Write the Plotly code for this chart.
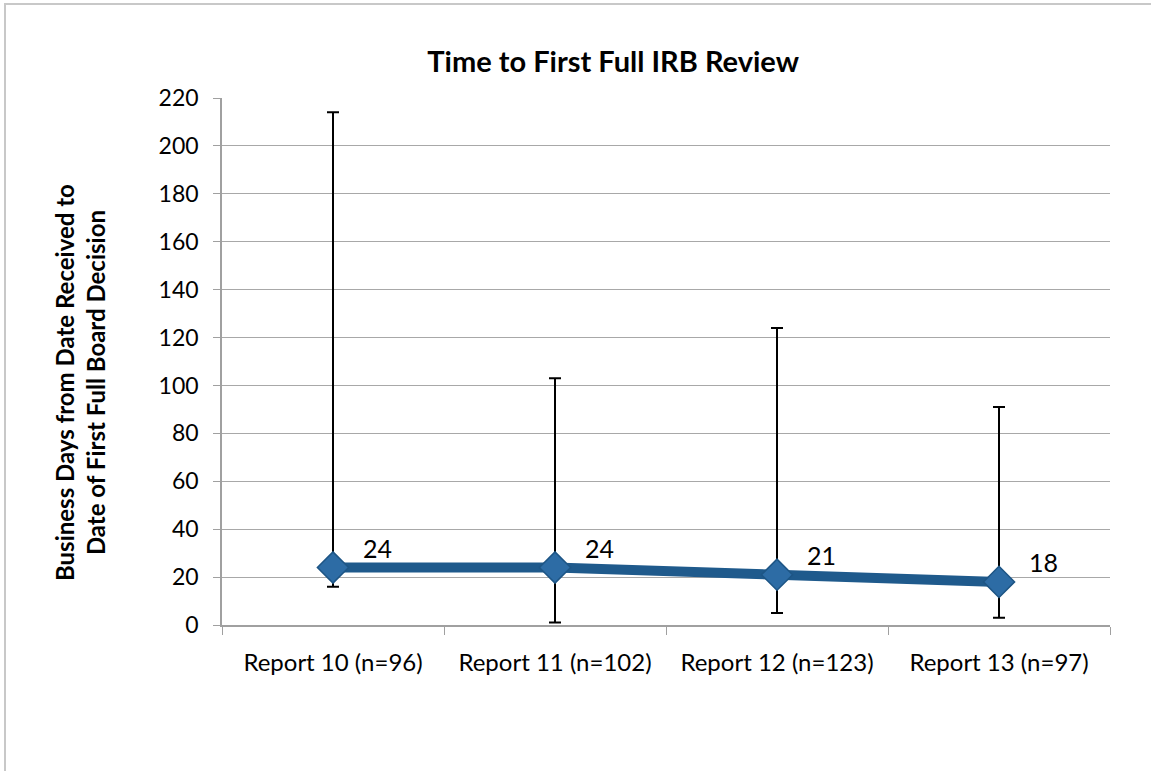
import plotly.graph_objects as go

categories = ["Report 10 (n=96)", "Report 11 (n=102)", "Report 12 (n=123)", "Report 13 (n=97)"]
median_days = [24, 24, 21, 18]
max_days = [214, 103, 124, 91]
min_days = [16, 1, 5, 3]

err_plus = [mx - m for mx, m in zip(max_days, median_days)]
err_minus = [m - mn for mn, m in zip(min_days, median_days)]

FONT = "Lato, 'Open Sans', sans-serif"

fig = go.Figure()
fig.add_trace(go.Scatter(
    x=categories, y=median_days, mode="lines+markers",
    line=dict(color="#1F5A8C", width=10),
    marker=dict(symbol="diamond", size=24, color="#2D6CA5",
                line=dict(color="#1D5585", width=1.5)),
    error_y=dict(type="data", symmetric=False, array=err_plus, arrayminus=err_minus,
                 color="black", thickness=2, width=6),
    showlegend=False, hoverinfo="x+y",
))

for c, v in zip(categories, median_days):
    fig.add_annotation(x=c, y=v, text=str(v), showarrow=False,
                       xshift=44, yshift=20, font=dict(size=25, color="black", family=FONT))

# y-axis title (placed as rotated annotation to match the reference's vertical centering)
fig.add_annotation(xref="paper", yref="paper", x=(80 - 222) / 888, y=(625 - 383) / 527,
                   xanchor="center", yanchor="middle", textangle=-90, showarrow=False,
                   text="<b>Business Days from Date Received to<br>Date of First Full Board Decision</b>",
                   font=dict(size=24, color="black", family=FONT))

# outer frame
fig.add_shape(type="rect", xref="paper", yref="paper",
              x0=(5 - 222) / 888, x1=(1200 - 222) / 888,
              y0=(625 - 820) / 527, y1=(625 - 4) / 527,
              line=dict(color="#C8C8C8", width=2), layer="below")

fig.update_layout(
    width=1151, height=771,
    margin=dict(l=222, r=41, t=98, b=146),
    paper_bgcolor="white", plot_bgcolor="white",
    font=dict(family=FONT, size=23, color="black"),
    title=dict(text="<b>Time to First Full IRB Review</b>", x=0.5327, xanchor="center",
               y=1 - 62 / 771, yanchor="middle", font=dict(size=29, family=FONT)),
    xaxis=dict(type="category", showgrid=False, showline=True, linecolor="#A0A0A0", linewidth=1.5,
               ticks="outside", ticklen=8, tickcolor="#A0A0A0", tickson="boundaries",
               tickfont=dict(size=24), range=[-0.5, 3.5], ticklabelstandoff=15),
    yaxis=dict(range=[0, 220], dtick=20, showgrid=True, gridcolor="#A8A8A8", gridwidth=1.2,
               showline=True, linecolor="#A0A0A0", linewidth=1.5, ticks="outside", ticklen=7,
               tickcolor="#A0A0A0", tickfont=dict(size=23), zeroline=False, ticklabelstandoff=10),
)

fig.write_html("out.html", config={"displayModeBar": False},
               post_script="document.body.style.margin='0px';document.body.style.overflow='hidden';")
